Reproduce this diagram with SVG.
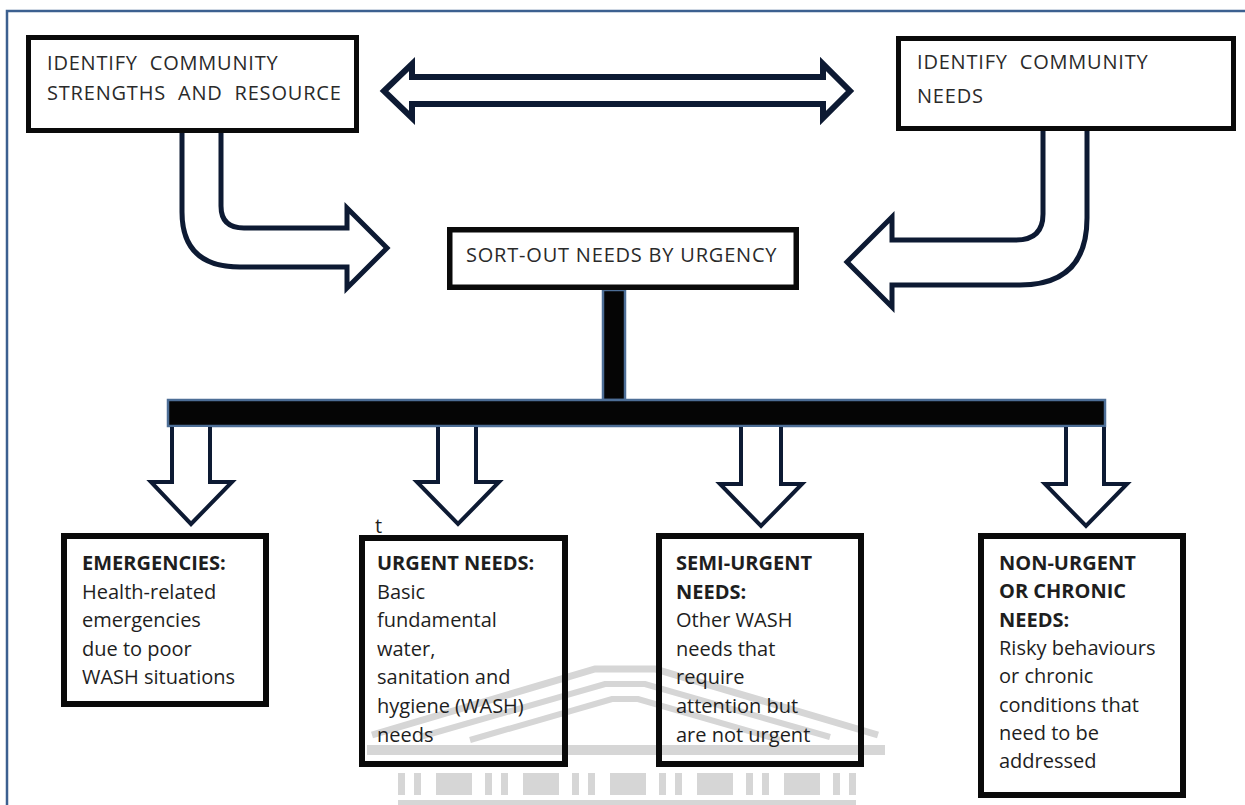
<svg xmlns="http://www.w3.org/2000/svg" width="1245" height="805" viewBox="0 0 1245 805">
  <style>
    .box { fill: #ffffff; stroke: #0a0a0a; }
    .open { fill: none; stroke: #0a0a0a; }
    .arrow { fill: #ffffff; stroke: #0d1a33; stroke-linejoin: miter; }
    .bar { fill: #050505; stroke: #4d6e96; stroke-width: 2.5; }
    .head { font-family: "Open Sans", "Noto Sans", sans-serif; font-size: 20px; fill: #2a2a2a; letter-spacing: 0.8px; white-space: pre; }
    .body { font-family: "Open Sans", "Noto Sans", sans-serif; font-size: 20px; fill: #1e1e1e; }
    .bold { font-weight: bold; }
    .wm { fill: #d6d6d6; }
    .wml { fill: none; stroke: #d6d6d6; }
  </style>

  <rect width="1245" height="805" fill="#ffffff"/>

  <!-- page frame -->
  <path d="M7,805 L7,11 L1245,11" fill="none" stroke="#3c6090" stroke-width="2.5"/>

  <!-- faint building emblem behind the lower boxes -->
  <g id="watermark">
    <polyline class="wml" stroke-width="7" points="372,735 595,669 655,669 878,735"/>
    <polyline class="wml" stroke-width="6" points="420,737 605,684 645,684 830,737"/>
    <polyline class="wml" stroke-width="6" points="470,740 612,699 638,699 780,740"/>
    <rect class="wm" x="367" y="745" width="518" height="10"/>
    <rect class="wm" x="398" y="773" width="7" height="22"/>
    <rect class="wm" x="414" y="773" width="7" height="22"/>
    <rect class="wm" x="436" y="773" width="36" height="22"/>
    <rect class="wm" x="485" y="773" width="7" height="22"/>
    <rect class="wm" x="501" y="773" width="7" height="22"/>
    <rect class="wm" x="523" y="773" width="36" height="22"/>
    <rect class="wm" x="572" y="773" width="7" height="22"/>
    <rect class="wm" x="588" y="773" width="7" height="22"/>
    <rect class="wm" x="610" y="773" width="36" height="22"/>
    <rect class="wm" x="659" y="773" width="7" height="22"/>
    <rect class="wm" x="675" y="773" width="7" height="22"/>
    <rect class="wm" x="697" y="773" width="36" height="22"/>
    <rect class="wm" x="746" y="773" width="7" height="22"/>
    <rect class="wm" x="762" y="773" width="7" height="22"/>
    <rect class="wm" x="784" y="773" width="36" height="22"/>
    <rect class="wm" x="833" y="773" width="7" height="22"/>
    <rect class="wm" x="849" y="773" width="7" height="22"/>
    <rect class="wm" x="398" y="800" width="458" height="5"/>
  </g>

  <!-- connectors -->
  <g id="connectors">
    <polygon class="arrow" stroke="#000000" stroke-width="6" points="384,91 412,64 412,77 823,77 823,64 850,91 823,118 823,104 412,104 412,118"/>
    <path class="arrow" stroke-width="5" d="M182,133 L182,212 Q182,267 240,267 L347,267 L347,288 L387,248 L347,208 L347,228 L244,228 Q221,228 221,206 L221,133"/>
    <path class="arrow" stroke-width="5" d="M1043,131 L1043,214 Q1043,240 1016,240 L892,240 L892,217 L847,262 L892,307 L892,285 L1020,285 Q1087,285 1087,218 L1087,131"/>
    <rect class="bar" x="603" y="290" width="22" height="110"/>
    <rect class="bar" x="168" y="400" width="937" height="26"/>
    <path class="arrow" stroke-width="4" d="M172,427 L172,482 L151,482 L191,524 L232,482 L210,482 L210,427"/>
    <path class="arrow" stroke-width="4" d="M438,427 L438,482 L417,482 L458,524 L499,482 L476,482 L476,427"/>
    <path class="arrow" stroke-width="4" d="M741,427 L741,484 L720,484 L761,526 L802,484 L781,484 L781,427"/>
    <path class="arrow" stroke-width="4" d="M1066,427 L1066,484 L1045,484 L1086,526 L1127,484 L1104,484 L1104,427"/>
  </g>

  <g id="strengths">
    <rect class="box" x="28.5" y="37.5" width="328" height="93" stroke-width="5"/>
    <text class="head" x="47" y="70">IDENTIFY  COMMUNITY</text>
    <text class="head" x="47" y="100" letter-spacing="0.5">STRENGTHS  AND  RESOURCE</text>
  </g>

  <g id="needs">
    <rect class="box" x="898.5" y="38.5" width="335" height="90" stroke-width="5"/>
    <text class="head" x="917" y="69">IDENTIFY  COMMUNITY</text>
    <text class="head" x="917" y="103">NEEDS</text>
  </g>

  <g id="sort">
    <rect class="box" x="449.75" y="229.75" width="346.5" height="57.5" stroke-width="5.5"/>
    <text class="head" x="466" y="262" letter-spacing="0.5">SORT-OUT NEEDS BY URGENCY</text>
  </g>

  <g id="emergencies">
    <rect class="open" x="64" y="536" width="202" height="168" stroke-width="6"/>
    <text class="body" x="82" y="570"><tspan class="bold">EMERGENCIES:</tspan><tspan x="82" dy="28.6">Health-related</tspan><tspan x="82" dy="28.6">emergencies</tspan><tspan x="82" dy="28.6">due to poor</tspan><tspan x="82" dy="28.6">WASH situations</tspan></text>
  </g>

  <g id="urgent">
    <text class="body" x="375" y="533" font-size="17">t</text>
    <rect class="open" x="362" y="538" width="203" height="226" stroke-width="6"/>
    <text class="body" x="377" y="570"><tspan class="bold">URGENT NEEDS:</tspan><tspan x="377" dy="28.6">Basic</tspan><tspan x="377" dy="28.6">fundamental</tspan><tspan x="377" dy="28.6">water,</tspan><tspan x="377" dy="28.6">sanitation and</tspan><tspan x="377" dy="28.6">hygiene (WASH)</tspan><tspan x="377" dy="28.6">needs</tspan></text>
  </g>

  <g id="semi-urgent">
    <rect class="open" x="659" y="536" width="202" height="228" stroke-width="6"/>
    <text class="body" x="676" y="570"><tspan class="bold">SEMI-URGENT</tspan><tspan class="bold" x="676" dy="28.6">NEEDS:</tspan><tspan x="676" dy="28.6">Other WASH</tspan><tspan x="676" dy="28.6">needs that</tspan><tspan x="676" dy="28.6">require</tspan><tspan x="676" dy="28.6">attention but</tspan><tspan x="676" dy="28.6">are not urgent</tspan></text>
  </g>

  <g id="non-urgent">
    <rect class="open" x="981" y="536" width="202" height="259" stroke-width="6"/>
    <text class="body" x="999" y="570"><tspan class="bold">NON-URGENT</tspan><tspan class="bold" x="999" dy="28.3">OR CHRONIC</tspan><tspan class="bold" x="999" dy="28.3">NEEDS:</tspan><tspan x="999" dy="28.3">Risky behaviours</tspan><tspan x="999" dy="28.3">or chronic</tspan><tspan x="999" dy="28.3">conditions that</tspan><tspan x="999" dy="28.3">need to be</tspan><tspan x="999" dy="28.3">addressed</tspan></text>
  </g>
</svg>
